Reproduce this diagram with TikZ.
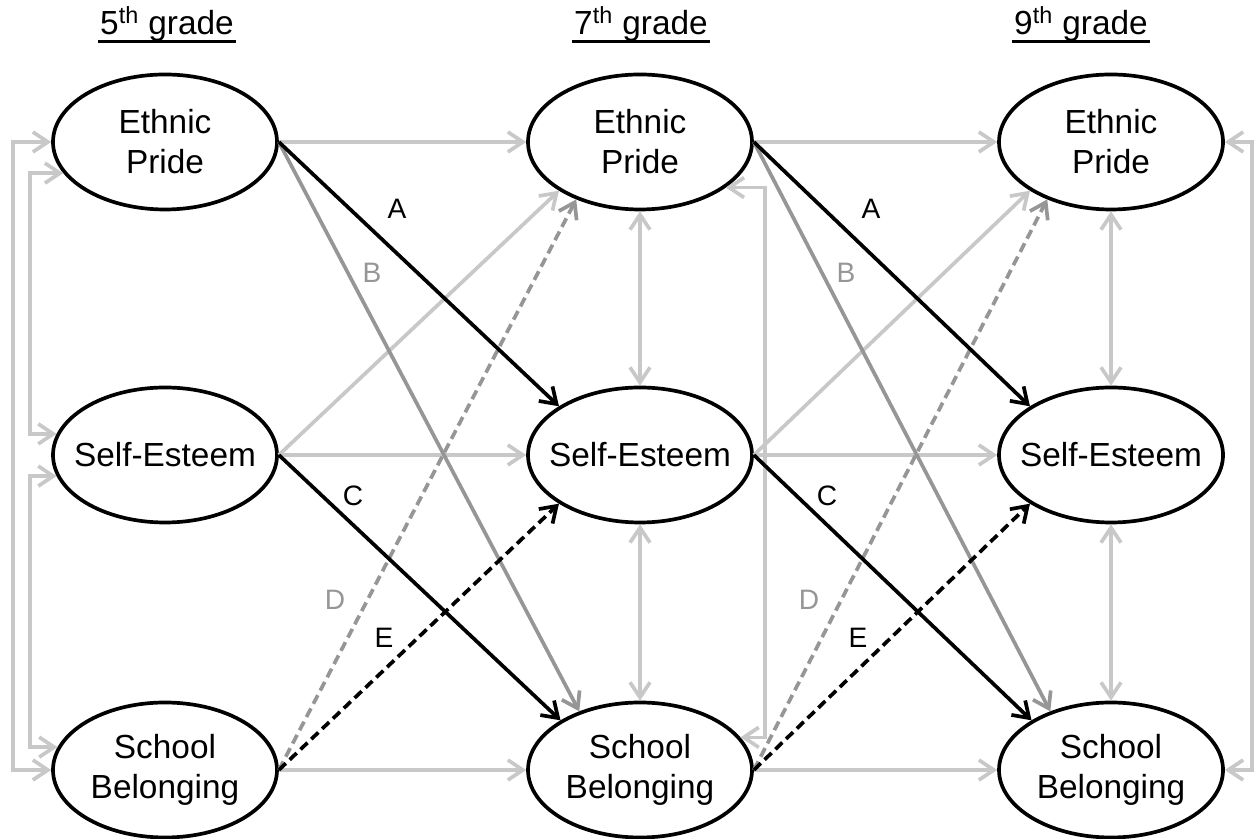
\documentclass[tikz,border=0pt]{standalone}
\usepackage{fontspec}
\setmainfont{Liberation Sans}
\usetikzlibrary{positioning,shapes.geometric,arrows.meta}
\definecolor{lightline}{RGB}{200,200,200}
\definecolor{midline}{RGB}{150,150,150}

\begin{document}
\begin{tikzpicture}[on grid, line width=2.1pt,
    main/.style = {draw, ellipse, minimum width=4.48cm, minimum height=2.7cm, inner xsep=-3mm, inner ysep=0pt, align=center, font=\fontsize{19}{22.8}\selectfont},
    grade/.style = {anchor=base, inner sep=0pt, font=\fontsize{19}{22.8}\selectfont},
    lbl/.style = {font=\fontsize{16}{19}\selectfont},
    onearr/.style = {-{Straight Barb[length=3mm,width=4mm]}},
    twoway/.style = {{Straight Barb[length=3mm,width=4mm]}-{Straight Barb[length=3mm,width=4mm]}},
    faint/.style = {draw=lightline, onearr},
    covar/.style = {draw=lightline, twoway},
    strong/.style = {draw=black, onearr},
    medium/.style = {draw=midline, onearr},
    dashline/.style = {dash pattern=on 5.5pt off 3pt}]
    \useasboundingbox (0,0) rectangle (25.12,16.78);
    % grades
    \node[grade] (h5) at (3.34,16.08) {5\textsuperscript{th} grade};
    \node[grade] (h7) at (12.82,16.08) {7\textsuperscript{th} grade};
    \node[grade] (h9) at (21.62,16.08) {9\textsuperscript{th} grade};
    \draw[line width=1.6pt] ([yshift=-3.5pt]h5.base west) -- ([yshift=-3.5pt]h5.base east);
    \draw[line width=1.6pt] ([yshift=-3.5pt]h7.base west) -- ([yshift=-3.5pt]h7.base east);
    \draw[line width=1.6pt] ([yshift=-3.5pt]h9.base west) -- ([yshift=-3.5pt]h9.base east);
    % constructs
    \node[main] (ep5) at (3.30,13.94) {Ethnic\\Pride};
    \node[main] (se5) [below=6.26cm of ep5] {Self-Esteem};
    \node[main] (sb5) [below=6.30cm of se5] {School\\Belonging};
    \node[main] (ep7) [right=9.50cm of ep5] {Ethnic\\Pride};
    \node[main] (se7) [right=9.50cm of se5] {Self-Esteem};
    \node[main] (sb7) [right=9.50cm of sb5] {School\\Belonging};
    \node[main] (ep9) [right=9.42cm of ep7] {Ethnic\\Pride};
    \node[main] (se9) [right=9.42cm of se7] {Self-Esteem};
    \node[main] (sb9) [right=9.42cm of sb7] {School\\Belonging};
    \coordinate (lxo) at (0.26,0);
    \coordinate (lxi) at (0.60,0);
    \coordinate (rx7) at (15.30,0);
    \coordinate (rx9) at (25.04,0);
    % stability paths
    \path
    (ep5.east) edge[faint] (ep7.west)
    (se5.east) edge[faint] (se7.west)
    (sb5.east) edge[faint] (sb7.west)
    (ep7.east) edge[faint] (ep9.west)
    (se7.east) edge[faint] (se9.west)
    (sb7.east) edge[faint] (sb9.west)
    (se5.east) edge[faint] (ep7.211)
    (se7.east) edge[faint] (ep9.211);
    % correlations
    \path
    (ep7.south) edge[covar] (se7.north)
    (se7.south) edge[covar] (sb7.north)
    (ep9.south) edge[covar] (se9.north)
    (se9.south) edge[covar] (sb9.north);
    \draw[covar] (ep5.west) -- (ep5.west -| lxo) |- (sb5.west);
    \draw[covar] (ep5.197) -- (ep5.197 -| lxi) |- (se5.169);
    \draw[covar] (se5.191) -- (se5.191 -| lxi) |- (sb5.168);
    \draw[covar] (ep7.332) -- (ep7.332 -| rx7) |- (sb7.18);
    \draw[covar] (ep9.east) -- (ep9.east -| rx9) |- (sb9.east);
    % cross-lagged paths
    \path
    (ep5.east) edge[medium] (sb7.136)
    (ep7.east) edge[medium] (sb9.136)
    (sb5.east) edge[medium, dashline] (ep7.222)
    (sb7.east) edge[medium, dashline] (ep9.222);
    \path
    (ep5.east) edge[strong] (se7.149)
    (se5.east) edge[strong] (sb7.148)
    (ep7.east) edge[strong] (se9.149)
    (se7.east) edge[strong] (sb9.148)
    (sb5.east) edge[strong, dashline] (se7.211)
    (sb7.east) edge[strong, dashline] (se9.211);
    % path labels
    \node[lbl] (a5) at (7.94,12.60) {A};
    \node[lbl, text=midline] (b5) at (7.44,11.32) {B};
    \node[lbl] (c5) at (7.06,6.86) {C};
    \node[lbl, text=midline] (d5) at (6.70,4.78) {D};
    \node[lbl] (e5) at (7.68,4.02) {E};
    \node[lbl] (a7) at (17.42,12.60) {A};
    \node[lbl, text=midline] (b7) at (16.92,11.32) {B};
    \node[lbl] (c7) at (16.54,6.86) {C};
    \node[lbl, text=midline] (d7) at (16.18,4.78) {D};
    \node[lbl] (e7) at (17.16,4.02) {E};
\end{tikzpicture}
\end{document}
